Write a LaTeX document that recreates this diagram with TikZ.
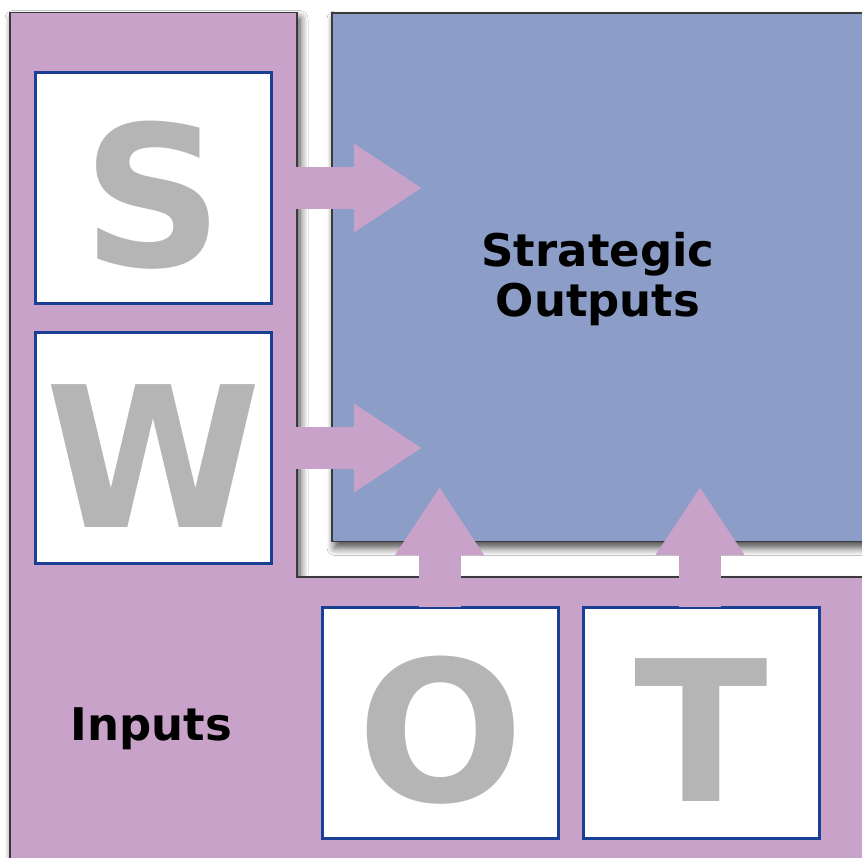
\documentclass[tikz,border=0pt]{standalone}
\usepackage{fontspec}
\setmainfont{DejaVu Sans}
\usetikzlibrary{shadows.blur,arrows.meta}
\definecolor{lilac}{HTML}{C8A2C8}
\definecolor{outblue}{HTML}{8C9DC8}
\definecolor{boxblue}{HTML}{1A4096}
\definecolor{lettergray}{HTML}{B5B5B5}
\definecolor{edge}{HTML}{3A3A3A}
\begin{document}
\begin{tikzpicture}[x=1pt,y=-1pt,
  softshadow/.style={blur shadow={shadow xshift=3pt,shadow yshift=-6pt,shadow blur radius=8pt,shadow blur steps=8,shadow opacity=75}},
  letterbox/.style={draw=boxblue,line width=3pt,fill=white,inner sep=0pt,minimum width=236pt,minimum height=231pt},
  bigletter/.style={font=\fontsize{196}{196}\selectfont\bfseries,text=lettergray,anchor=base,inner sep=0pt},
  biglabel/.style={font=\fontsize{45}{50}\selectfont\bfseries,align=center,anchor=base,inner sep=0pt},
  fatarrow/.style={draw=lilac,line width=42pt,line cap=butt,-{Triangle[length=68pt,width=84pt]}}]
\useasboundingbox (0,0) rectangle (862,858);
\clip (0,0) rectangle (862,858);
\fill[white] (0,0) rectangle (862,858);
% inputs area (L shape)
\path[fill=lilac,draw=edge,line width=1.3pt,softshadow]
  (10,12.5) -- (297,12.5) -- (297,577) -- (900,577) -- (900,900) -- (10,900) -- cycle;
% strategic outputs area
\path[fill=outblue,draw=edge,line width=1.3pt,softshadow]
  (332,13) rectangle (900,541.5);
\node[biglabel] (outputs) at (598,317) {Strategic\\Outputs};
\node[biglabel] (inputs) at (151.5,740) {Inputs};
% SWOT boxes
\node[letterbox] (Sbox) at (153.5,188) {};
\node[letterbox] (Wbox) at (153.5,448) {};
\node[letterbox] (Obox) at (440.5,722.5) {};
\node[letterbox] (Tbox) at (701,722.5) {};
\node[bigletter] (S) at (153.5,267) {S};
\node[bigletter] (W) at (153.5,527) {W};
\node[bigletter] (O) at (440.5,801) {O};
\node[bigletter] (T) at (701,801) {T};
% arrows
\coordinate (sTip) at (422,188);
\coordinate (wTip) at (422,448);
\coordinate (oTip) at (439.5,487);
\coordinate (tTip) at (700,487);
\draw[fatarrow] (Sbox.east) -- (sTip);
\draw[fatarrow] (Wbox.east) -- (wTip);
\draw[fatarrow] (439.5,607) -- (oTip);
\draw[fatarrow] (700,607) -- (tTip);
\end{tikzpicture}
\end{document}
